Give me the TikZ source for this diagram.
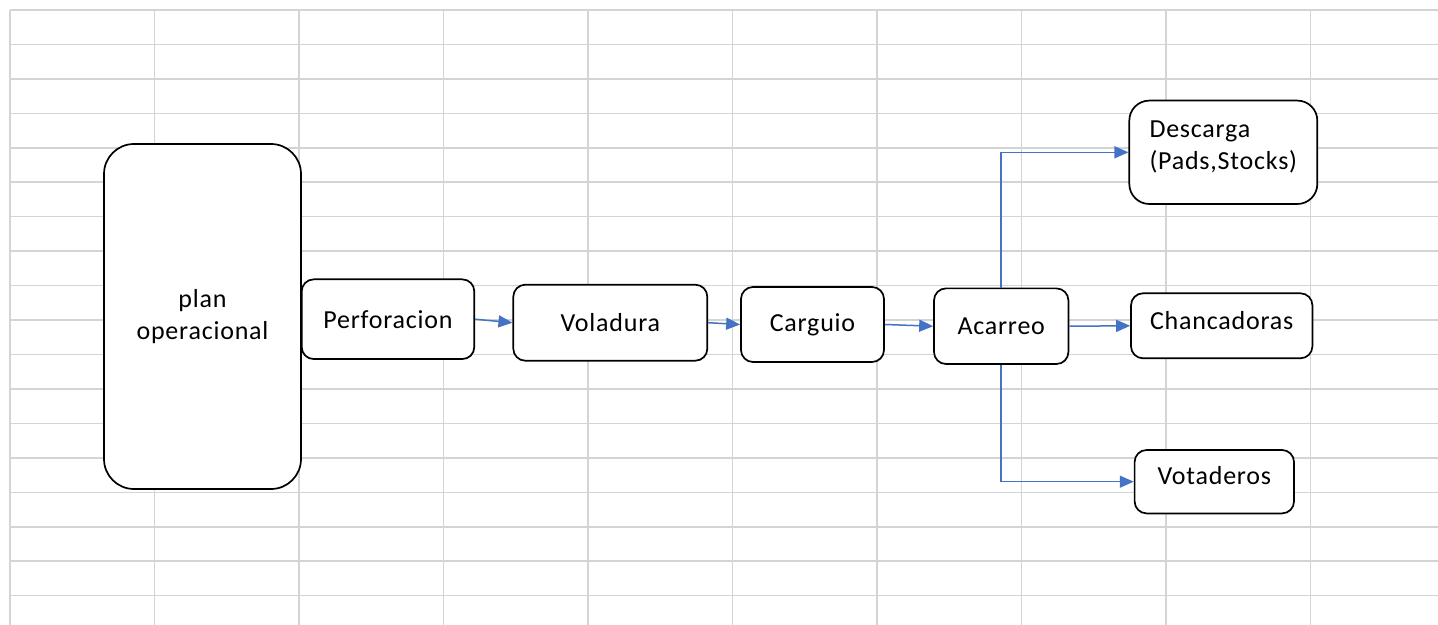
\documentclass[tikz,border=0pt]{standalone}
\usepackage{fontspec}
\setmainfont{Carlito}[LetterSpace=3]
\usetikzlibrary{arrows.meta}
\definecolor{gridc}{HTML}{D4D4D4}
\definecolor{arrowc}{HTML}{4472C4}
\begin{document}
\begin{tikzpicture}[x=0.5pt,y=-0.5pt,
  gridline/.style={draw=gridc,line width=0.75pt},
  procbox/.style={draw=black,fill=white,line width=0.85pt,rounded corners=6pt,
    inner sep=0pt,font=\fontsize{13}{15.8}\selectfont,align=center},
  flow/.style={draw=arrowc,line width=0.75pt,-{Triangle[length=7pt,width=6pt]}}]
\useasboundingbox (0,0) rectangle (1438,625);
\fill[white] (0,0) rectangle (1438,625);
% spreadsheet grid
\foreach \k in {0,...,9}{
  \draw[gridline] ({10+144.5*\k},10) -- ({10+144.5*\k},625);
}
\foreach \k in {0,...,17}{
  \draw[gridline] (10,{10+34.45*\k}) -- (1438,{10+34.45*\k});
}
% boxes
\node[procbox,rounded corners=15pt,minimum width=98.5pt,minimum height=172.5pt] (plan) at (202.5,316.5) {plan\\operacional};
\node[procbox,minimum width=86.3pt,minimum height=39.85pt] (perf) at (388,319.2) {Perforacion};
\node[procbox,minimum width=97pt,minimum height=38pt] (vol) at (610.3,322.7) {Voladura};
\node[procbox,minimum width=71.5pt,minimum height=37.5pt] (carg) at (812.5,324.5) {Carguio};
\node[procbox,minimum width=67.2pt,minimum height=37.8pt] (aca) at (1001.2,326.2) {Acarreo};
\node[procbox,rounded corners=10pt,align=left,minimum width=94pt,minimum height=51.7pt] (desc) at (1223.3,152.3) {Descarga\\(Pads,Stocks)\\[-8.5pt]};
\node[procbox,minimum width=90.7pt,minimum height=32.5pt] (chan) at (1221.7,325.8) {Chancadoras\\[-10pt]};
\node[procbox,minimum width=79.7pt,minimum height=31.7pt] (vot) at (1214.3,481.7) {Votaderos\\[-10pt]};
% connectors
\draw[flow] (perf.east) -- (vol.west);
\draw[flow] (vol.east) -- (carg.west);
\draw[flow] (carg.east) -- (aca.west);
\draw[flow] (aca.east) -- (chan.west);
\draw[flow] (aca.north) |- (desc.west);
\draw[flow] (aca.south) |- (vot.west);
\end{tikzpicture}
\end{document}
